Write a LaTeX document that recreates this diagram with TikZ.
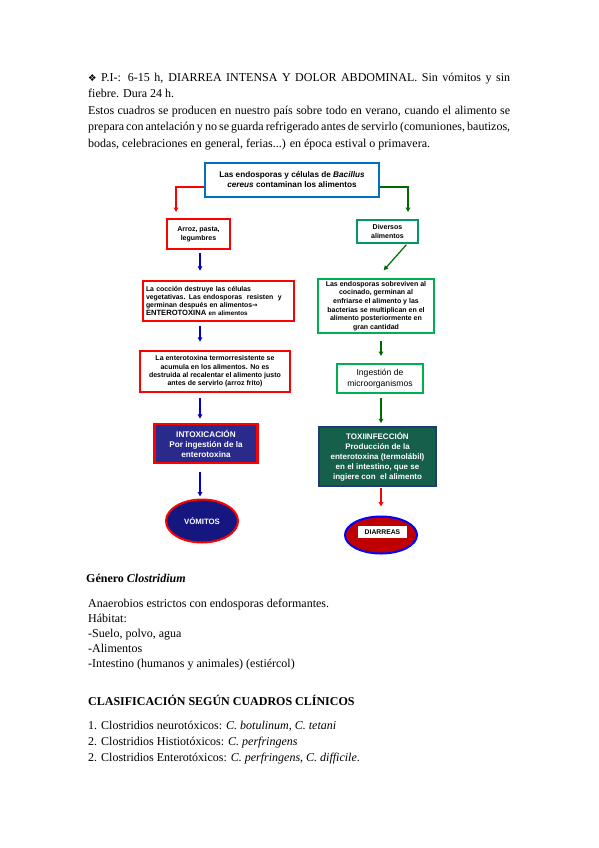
\documentclass[tikz,border=0pt]{standalone}
\usepackage{fontspec}
\setmainfont{Liberation Serif}
\newfontfamily\arial{Liberation Sans}
\newfontfamily\dejavu{DejaVu Sans}
\usetikzlibrary{shapes.geometric,arrows.meta}
\definecolor{myred}{RGB}{255,0,0}
\definecolor{topblue}{RGB}{0,112,192}
\definecolor{dgreen}{RGB}{0,105,0}
\definecolor{tealg}{RGB}{0,153,102}
\definecolor{lgreen}{RGB}{0,176,80}
\definecolor{navyfill}{RGB}{42,42,140}
\definecolor{toxfill}{RGB}{22,95,75}
\definecolor{toxborder}{RGB}{30,60,110}
\definecolor{vomfill}{RGB}{22,22,128}
\definecolor{diafill}{RGB}{192,0,0}
\definecolor{arrblue}{RGB}{0,0,200}
\tikzset{
  box/.style={draw, line width=2pt, inner sep=0pt, align=center, fill=white},
  sfont/.style={font=\arial\bfseries\fontsize{7}{8.4}\selectfont},
  txt/.style={anchor=base west, inner sep=0pt, font=\fontsize{12}{14}\selectfont},
  tip/.style={-{Triangle[length=4.5pt,width=4.5pt]}},
  barr/.style={tip, draw=arrblue, line width=1.2pt},
  garr/.style={tip, draw=dgreen, line width=1.2pt},
}
\begin{document}
\begin{tikzpicture}[x=1pt,y=-1pt]
\useasboundingbox (0,0) rectangle (599,848);
\fill[white] (0,0) rectangle (599,848);

% ---- text above ----
\node[txt] (l1) at (88,82) {\makebox[422pt][s]{{\dejavu\fontsize{9.5}{10}\selectfont ❖} P.I-: 6-15 h, DIARREA INTENSA Y DOLOR ABDOMINAL. Sin vómitos y sin}};
\node[txt] (l2) at (88,98) {fiebre. Dura 24 h.};
\node[txt] (l3) at (88,114) {\makebox[422pt][s]{Estos cuadros se producen en nuestro país sobre todo en verano, cuando el alimento se}};
\node[txt] (l4) at (88,131) {\makebox[422pt][s]{prepara con antelación y no se guarda refrigerado antes de servirlo (comuniones, bautizos,}};
\node[txt] (l5) at (88,147) {bodas, celebraciones en general, ferias...) en época estival o primavera.};

% ---- diagram ----
\node[box, draw=topblue, minimum width=174pt, minimum height=34pt, font=\arial\bfseries\fontsize{8.2}{10.3}\selectfont] (top) at (292,179.5)
  {Las endosporas y células de \textit{Bacillus}\\\textit{cereus} contaminan los alimentos};

\node[box, draw=myred, minimum width=63pt, minimum height=30pt, font=\arial\bfseries\fontsize{7}{9}\selectfont] (arroz) at (198.5,234) {Arroz, pasta,\\legumbres};
\node[box, draw=tealg, minimum width=61pt, minimum height=23pt, font=\arial\bfseries\fontsize{7}{9}\selectfont] (diversos) at (387.5,231.5) {Diversos\\alimentos};

\node[box, draw=myred, line width=2.5pt, minimum width=151pt, minimum height=40pt, text width=145pt, align=left, font=\arial\bfseries\fontsize{6.9}{8}\selectfont] (coccion) at (218.5,301)
  {La cocción destruye las células\\vegetativas. Las endosporas\ \ resisten\ \ y\\germinan después en alimentos{\dejavu\fontsize{6.5}{8}\selectfont →}\\{\fontsize{7.6}{8}\selectfont ENTEROTOXINA} {\fontsize{6.3}{8}\selectfont en alimentos}};
\node[box, draw=myred, line width=2.5pt, minimum width=150pt, minimum height=41pt, font=\arial\bfseries\fontsize{7}{8.3}\selectfont] (entero) at (215,371.5)
  {La enterotoxina termorresistente se\\acumula en los alimentos. No es\\destruida al recalentar el alimento justo\\antes de servirlo (arroz frito)};
\node[box, draw=myred, line width=2.5pt, fill=navyfill, text=white, minimum width=103pt, minimum height=39pt, font=\arial\bfseries\fontsize{8.2}{10}\selectfont] (intox) at (206,443.5)
  {INTOXICACIÓN\\Por ingestión de la\\enterotoxina};
\node[ellipse, draw=myred, line width=2pt, fill=vomfill, text=white, inner sep=0pt, minimum width=72pt, minimum height=43pt, font=\arial\bfseries\fontsize{7.8}{9}\selectfont] (vomitos) at (202,521) {VÓMITOS};

\node[box, draw=lgreen, minimum width=116pt, minimum height=54pt, font=\arial\bfseries\fontsize{7}{8.6}\selectfont] (endo) at (376,306)
  {Las endosporas sobreviven al\\cocinado, germinan al\\enfriarse el alimento y las\\bacterias se multiplican en el\\alimento posteriormente en\\gran cantidad};
\node[box, draw=lgreen, minimum width=86pt, minimum height=29pt, font=\arial\fontsize{8.6}{11}\selectfont] (ingest) at (380,378.5)
  {Ingestión de\\microorganismos};
\node[box, draw=toxborder, line width=1.5pt, fill=toxfill, text=white, minimum width=117pt, minimum height=59pt, font=\arial\bfseries\fontsize{8}{10}\selectfont] (toxi) at (377.5,456.5)
  {TOXIINFECCIÓN\\Producción de la\\enterotoxina (termolábil)\\en el intestino, que se\\ingiere con\ \ el alimento};
\node[ellipse, draw=blue, line width=2pt, fill=diafill, inner sep=0pt, minimum width=72pt, minimum height=37pt] (diarreas) at (381,535) {};
\node[fill=white, inner sep=0pt, minimum width=49pt, minimum height=12pt, font=\arial\bfseries\fontsize{6.8}{8}\selectfont] (diarreasLbl) at (382.5,532) {DIARREAS};

% ---- connectors ----
\coordinate (lx) at (200,0);
\coordinate (rx) at (381,0);
\draw[tip, draw=myred, line width=2pt, shorten >=6pt] ([yshift=-7.5pt]top.west) -| ([xshift=-22.5pt]arroz.north);
\draw[tip, draw=dgreen, line width=2pt, shorten >=7pt] ([yshift=-7.5pt]top.east) -| ([xshift=20.5pt]diversos.north);
\draw[garr, shorten <=1pt, shorten >=1pt] ([xshift=19.5pt]diversos.south) -- ([xshift=7pt,yshift=7pt]endo.north);

\draw[barr, shorten <=3pt, shorten >=9pt] (arroz.south -| lx) -- (coccion.north -| lx);
\draw[barr, shorten <=4pt, shorten >=8pt] (coccion.south -| lx) -- (entero.north -| lx);
\draw[barr, shorten <=5pt, shorten >=4pt] (entero.south -| lx) -- (intox.north -| lx);
\draw[barr, line width=1.6pt, shorten <=8pt, shorten >=2pt] (intox.south -| lx) -- (vomitos.north -| lx);

\draw[garr, shorten <=7pt, shorten >=7pt] (endo.south -| rx) -- (ingest.north -| rx);
\draw[garr, shorten <=4pt, shorten >=3pt] (ingest.south -| rx) -- (toxi.north -| rx);
\draw[tip, draw=myred, line width=1.6pt, shorten <=1pt, shorten >=9pt] (toxi.south -| rx) -- (diarreas.north -| rx);

% ---- text below ----
\node[txt, font=\fontsize{12}{14}\selectfont\bfseries] (gen) at (86,582) {Género \textit{Clostridium}};
\node[txt] (b1) at (88,607) {Anaerobios estrictos con endosporas deformantes.};
\node[txt] (b2) at (88,622) {Hábitat:};
\node[txt] (b3) at (88,637) {-Suelo, polvo, agua};
\node[txt] (b4) at (88,652) {-Alimentos};
\node[txt] (b5) at (88,667) {-Intestino (humanos y animales) (estiércol)};
\node[txt, font=\fontsize{12}{14}\selectfont\bfseries] (clas) at (88,705) {CLASIFICACIÓN SEGÚN CUADROS CLÍNICOS};
\node[txt] (c1) at (88,729) {1. Clostridios neurotóxicos: \textit{C. botulinum, C. tetani}};
\node[txt] (c2) at (88,745) {2. Clostridios Histiotóxicos: \textit{C. perfringens}};
\node[txt] (c3) at (88,761) {2. Clostridios Enterotóxicos: \textit{C. perfringens, C. difficile}.};
\end{tikzpicture}
\end{document}
